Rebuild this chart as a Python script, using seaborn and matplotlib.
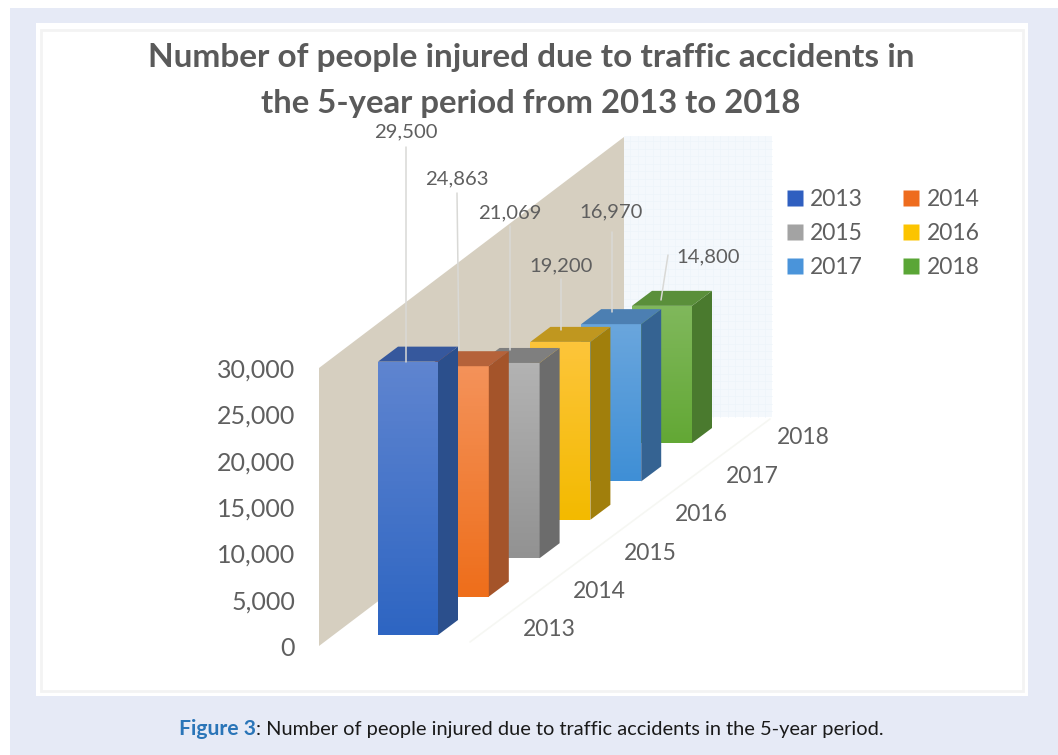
import numpy as np
import matplotlib
matplotlib.use("Agg")
import matplotlib.pyplot as plt
from matplotlib.colors import LinearSegmentedColormap
from matplotlib.patches import Rectangle, Polygon
from matplotlib.lines import Line2D
import seaborn as sns

# ---------- data ----------
years = ["2013", "2014", "2015", "2016", "2017", "2018"]
injured = [29500, 24863, 21069, 19200, 16970, 14800]
value_labels = ["29,500", "24,863", "21,069", "19,200", "16,970", "14,800"]
value_ticks = [0, 5000, 10000, 15000, 20000, 25000, 30000]
value_tick_labels = ["0", "5,000", "10,000", "15,000", "20,000", "25,000", "30,000"]

# ---------- styles ----------
face_top = ["#5f85d0", "#f4925a", "#b3b3b3", "#fdc53a", "#6aa6dd", "#80b85c"]
face_bottom = ["#2e65c2", "#ee6e1a", "#929292", "#f3ba00", "#3f8fd6", "#63a835"]
side_col = ["#2b4f8c", "#a4542a", "#6c6c6c", "#a17f0c", "#356392", "#4a7a2e"]
top_col = ["#36589d", "#b5623a", "#7f7f7f", "#c0971f", "#4c7fb2", "#5a8f3a"]
legend_col = ["#2f5fc0", "#ee6c1e", "#a3a3a3", "#fcc400", "#4a94da", "#5aa636"]
TXT = "#5f5f5f"
FONT = ["Lato", "DejaVu Sans"]

sns.set_theme(style="white")
plt.rcParams["font.family"] = FONT

W, H = 1058, 755
fig = plt.figure(figsize=(W / 100, H / 100), dpi=100, facecolor="white")

# overlay in image pixels for the page furniture
bg = fig.add_axes([0, 0, 1, 1], zorder=0)
bg.set_xlim(0, W); bg.set_ylim(H, 0); bg.axis("off")
bg.add_patch(Rectangle((10, 8), W - 10, H - 8, fc="#e6eaf6", ec="none"))
bg.add_patch(Rectangle((36, 23), 992, 673, fc="white", ec="none"))
bg.add_patch(Rectangle((41, 30), 982, 661, fc="none", ec="#f3f3f3", lw=2))
# side wall and back wall
bg.add_patch(Polygon([(319, 368), (624, 137), (624, 415), (319, 646)], fc="#d6cfc0", ec="none"))
bg.add_patch(Rectangle((624, 136), 148, 281, fc="#f4f8fc", ec="none"))
for gx in np.arange(630, 772, 7.5):
    bg.plot([gx, gx], [136, 417], color="#edf4fa", lw=0.5)
for gy in np.arange(141, 417, 7.5):
    bg.plot([624, 772], [gy, gy], color="#edf4fa", lw=0.5)
bg.plot([470, 770], [642, 419], color="#f6f7f3", lw=1.2)

# data axes: x = year position, y = value
L, R, T, B = 300, 1000, 30, 690
PX_X = 50.8                  # pixels per year along x
K = 30000 / 278              # value units per pixel
X0_PX, Y0_PX = 408, 646      # pixel of x=0 and y=0
ax = fig.add_axes([L / W, 1 - B / H, (R - L) / W, (B - T) / H], zorder=1)
ax.patch.set_alpha(0)

BAR_W = 60 / PX_X
DEPTH_X = 20 / PX_X
DEPTH_Y = 15 * K
BASE0 = 11 * K
STEP_Y = 38.4 * K

for i in reversed(range(len(years))):
    base = BASE0 + i * STEP_Y
    val = injured[i]
    n_before = len(ax.patches)
    sns.barplot(x=[i], y=[val], native_scale=True, width=BAR_W, bottom=base,
                color=face_bottom[i], errorbar=None, ax=ax, saturation=1, linewidth=0)
    bar = ax.patches[n_before]
    z = 10 + (5 - i) * 3
    bar.set_zorder(z)
    x1, x2 = i - BAR_W / 2, i + BAR_W / 2
    y1, y2 = base, base + val
    # gradient on the front face
    cm = LinearSegmentedColormap.from_list("f", [face_top[i], face_bottom[i]])
    im = ax.imshow(np.linspace(0, 1, 64)[:, None], cmap=cm, extent=(x1, x2, y1, y2),
                   aspect="auto", origin="upper", zorder=z + 0.5)
    im.set_clip_path(bar)
    # side and top faces
    ax.fill([x2, x2 + DEPTH_X, x2 + DEPTH_X, x2],
            [y1, y1 + DEPTH_Y, y2 + DEPTH_Y, y2], color=side_col[i], lw=0, zorder=z + 0.6)
    ax.fill([x1, x1 + DEPTH_X, x2 + DEPTH_X, x2],
            [y2, y2 + DEPTH_Y, y2 + DEPTH_Y, y2], color=top_col[i], lw=0, zorder=z + 0.6)
    # year label along the depth axis
    ax.text(i + 2.775, base + 5 * K, years[i], ha="center", va="center",
            fontsize=16.5, color=TXT, zorder=40)

ax.set_xlim((L - X0_PX) / PX_X, (R - X0_PX) / PX_X)
ax.set_ylim((Y0_PX - B) * K, (Y0_PX - T) * K)
ax.set_yticks(value_ticks, value_tick_labels)
ax.set_xticks([])
ax.set_xlabel(""); ax.set_ylabel("")
ax.tick_params(axis="y", length=0, pad=3.6, labelsize=18, labelcolor=TXT)
sns.despine(ax=ax, left=True, bottom=True)

# overlay for leader lines and value labels
top = fig.add_axes([0, 0, 1, 1], zorder=2)
top.set_xlim(0, W); top.set_ylim(H, 0); top.axis("off")
leader = [((406, 147), (406, 362)), ((457, 193), (459, 350)), ((510, 226), (510, 350)),
          ((561, 279), (561, 330)), ((612, 232), (612, 312)), ((668, 255), (661, 300))]
lab_pos = [(406, 132), (457, 179), (510, 213), (561, 266), (611, 212), (708, 257)]
for (p, q), (lx, ly), s in zip(leader, lab_pos, value_labels):
    top.plot([p[0], q[0]], [p[1], q[1]], color="#d9d9d6", lw=1.1)
    top.text(lx, ly, s, ha="center", va="center", fontsize=14.6, color=TXT)

top.text(531, 57, "Number of people injured due to traffic accidents in", ha="center", va="center",
         fontsize=24, fontweight="bold", color="#5a5a5a")
top.text(531, 103, "the 5-year period from 2013 to 2018", ha="center", va="center",
         fontsize=23.7, fontweight="bold", color="#5a5a5a")

# caption
top.text(256, 729, "Figure 3", ha="right", va="center", fontsize=15.2, fontweight="bold",
         color="#2a75b8")
top.text(256, 729, ": Number of people injured due to traffic accidents in the 5-year period.",
         ha="left", va="center", fontsize=14.45, color="#1a1a1a")

# legend
order = [0, 2, 4, 1, 3, 5]
handles = [Line2D([], [], marker="s", ls="none", ms=11, mfc=legend_col[j], mec="none", label=years[j])
           for j in order]
top.legend(handles=handles, ncol=2, frameon=False, fontsize=16.5, labelcolor=TXT,
           bbox_to_anchor=(781 / W, 1 - 189.5 / H), bbox_transform=fig.transFigure, loc="upper left",
           borderaxespad=0, borderpad=0, handletextpad=0.07, columnspacing=1.5, labelspacing=0.55,
           handlelength=1.2)

fig.savefig("out.png", dpi=100, facecolor="white")
